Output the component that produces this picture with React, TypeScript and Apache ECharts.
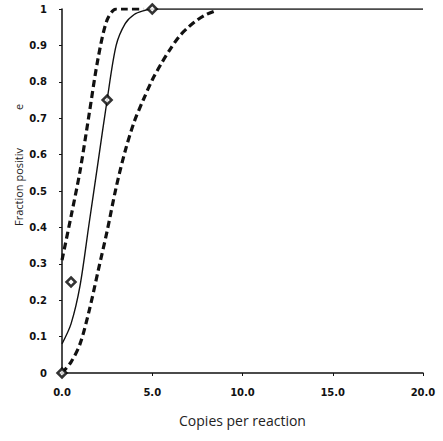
import React, { useEffect, useRef } from "react";
import * as echarts from "echarts";

const upperX = [0, 0.5, 1.0, 1.5, 2.0, 2.5, 3.0, 3.5, 4.5];
const upperY = [0.31, 0.43, 0.555, 0.71, 0.865, 0.97, 1.0, 1.0, 1.0];

const modelX = [0, 0.5, 1.0, 1.5, 2.0, 2.5, 3.0, 3.5, 4.0, 4.5, 5, 10, 15, 20];
const modelY = [0.08, 0.135, 0.24, 0.41, 0.58, 0.75, 0.9, 0.96, 0.985, 0.995, 1, 1, 1, 1];

const lowerX = [0, 0.5, 1.0, 1.5, 2.0, 2.5, 3.0, 3.5, 4.0, 4.5, 5.0, 5.5, 6.0, 6.5, 7.0, 7.5, 8.0, 8.6];
const lowerY = [0, 0.03, 0.08, 0.17, 0.28, 0.39, 0.51, 0.61, 0.69, 0.75, 0.805, 0.85, 0.89, 0.925, 0.95, 0.97, 0.985, 0.997];

const obsX = [0, 0.5, 2.5, 5];
const obsY = [0, 0.25, 0.75, 1];

const zip = (xs: number[], ys: number[]) => xs.map((x, i) => [x, ys[i]]);

export default function App() {
  const ref = useRef<HTMLDivElement>(null);
  useEffect(() => {
    document.body.style.margin = "0";
    const chart = echarts.init(ref.current!, null, { renderer: "svg" });
    const labelFont = {
      color: "#111",
      fontSize: 10,
      fontWeight: "bold" as const,
      fontFamily: "DejaVu Sans",
    };
    chart.setOption({
      animation: false,
      backgroundColor: "#fff",
      grid: { left: 62, right: 20, top: 9, bottom: 68 },
      xAxis: {
        type: "value",
        min: 0,
        max: 20,
        interval: 5,
        splitLine: { show: false },
        axisLine: { lineStyle: { color: "#111", width: 1.5 } },
        axisTick: { show: true, length: 3, lineStyle: { color: "#111" } },
        axisLabel: { ...labelFont, margin: 14, formatter: (v: number) => v.toFixed(1) },
        name: "Copies per reaction",
        nameLocation: "middle",
        nameGap: 40,
        nameTextStyle: { color: "#222", fontSize: 14, fontFamily: "Open Sans" },
      },
      yAxis: {
        type: "value",
        min: 0,
        max: 1,
        interval: 0.1,
        splitLine: { show: false },
        axisLine: { show: true, lineStyle: { color: "#111", width: 1.5 } },
        axisTick: { show: true, length: 3, lineStyle: { color: "#111" } },
        axisLabel: {
          ...labelFont,
          margin: 15,
          formatter: (v: number) => (v === 0 ? "0" : v === 1 ? "1" : v.toFixed(1)),
        },
      },
      graphic: [
        {
          type: "text",
          x: 18,
          y: 187,
          rotation: Math.PI / 2,
          style: {
            text: "Fraction positiv",
            fontSize: 11,
            fontFamily: "Open Sans",
            fill: "#222",
            align: "center",
            verticalAlign: "middle",
          },
        },
        {
          type: "text",
          x: 18,
          y: 107,
          rotation: Math.PI / 2,
          style: {
            text: "e",
            fontSize: 11,
            fontFamily: "Open Sans",
            fill: "#222",
            align: "center",
            verticalAlign: "middle",
          },
        },
      ],
      series: [
        {
          type: "line",
          data: zip(upperX, upperY),
          smooth: 0.3,
          showSymbol: false,
          lineStyle: { color: "#111", width: 3.2, type: [7, 4] },
        },
        {
          type: "line",
          data: zip(lowerX, lowerY),
          smooth: 0.3,
          showSymbol: false,
          lineStyle: { color: "#111", width: 3.2, type: [7, 4] },
        },
        {
          type: "line",
          data: zip(modelX, modelY),
          smooth: 0.3,
          showSymbol: false,
          lineStyle: { color: "#111", width: 1.4 },
        },
        {
          type: "scatter",
          data: zip(obsX, obsY),
          symbol: "diamond",
          symbolSize: 9,
          itemStyle: { color: "#fff", borderColor: "#000", borderWidth: 2.5 },
          z: 5,
        },
      ],
    });
    return () => chart.dispose();
  }, []);
  return <div ref={ref} style={{ width: 443, height: 441 }} />;
}
